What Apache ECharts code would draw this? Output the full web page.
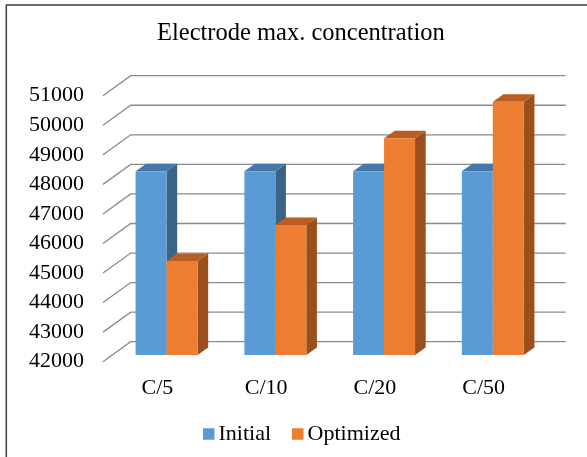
<!DOCTYPE html>
<html>
<head>
<meta charset="utf-8">
<style>
  html, body { margin: 0; padding: 0; background: #fff; }
  #chart { width: 587px; height: 457px; }
</style>
<script src="https://cdn.jsdelivr.net/npm/echarts@6/dist/echarts.min.js"></script>
</head>
<body>
<div id="chart"></div>
<script>
// Chart data
const categories = ['C/5', 'C/10', 'C/20', 'C/50'];
const initialValues = [48220, 48220, 48220, 48220];
const optimizedValues = [45180, 46400, 49330, 50570];
const yTicks = [42000, 43000, 44000, 45000, 46000, 47000, 48000, 49000, 50000, 51000];
const seriesNames = ['Initial', 'Optimized'];

// Pseudo-3D geometry (pixels): wall depth, plane of the bar fronts, bar thickness
const WALL_DEPTH = [27.7, -20];
const PLANE_SHIFT = [9.2, -6.7];
const BAR_DEPTH = [10.6, -7.5];
const BAR_FRACTION = 0.285;
const FONT = '"Liberation Serif", "Times New Roman", serif';

const Y_MIN = yTicks[0];
const Y_MAX = yTicks[yTicks.length - 1];

const palettes = [
  { front: '#5B9BD5', top: '#4677A9', side: '#3A6487' },
  { front: '#ED7D31', top: '#B95D20', side: '#9A4F1D' }
];

function gridRenderer(params, api) {
  const v = api.value(1);
  const p = api.coord([0, v]);
  const band = api.size([1, 0])[0];
  const xl = p[0] - band / 2;
  const xr = xl + band * categories.length;
  return {
    type: 'polyline',
    shape: {
      points: [
        [xl, p[1]],
        [xl + WALL_DEPTH[0], p[1] + WALL_DEPTH[1]],
        [xr + WALL_DEPTH[0], p[1] + WALL_DEPTH[1]]
      ]
    },
    style: { stroke: '#8a8a8a', lineWidth: 1.3, fill: null }
  };
}

function barRenderer(slot) {
  const pal = palettes[slot];
  return function (params, api) {
    const idx = api.value(0);
    const val = api.value(1);
    const band = api.size([1, 0])[0];
    const w = band * BAR_FRACTION;
    const base = api.coord([idx, Y_MIN]);
    const top = api.coord([idx, val]);
    const x0 = base[0] + PLANE_SHIFT[0] + (slot === 0 ? -w : 0);
    const x1 = x0 + w;
    const yb = base[1] + PLANE_SHIFT[1];
    const yt = top[1] + PLANE_SHIFT[1];
    const dx = BAR_DEPTH[0], dy = BAR_DEPTH[1];
    return {
      type: 'group',
      children: [
        { type: 'polygon', shape: { points: [[x1, yb], [x1, yt], [x1 + dx, yt + dy], [x1 + dx, yb + dy]] }, style: { fill: pal.side } },
        { type: 'polygon', shape: { points: [[x0, yt], [x1, yt], [x1 + dx, yt + dy], [x0 + dx, yt + dy]] }, style: { fill: pal.top } },
        { type: 'rect', shape: { x: x0, y: yt, width: w, height: yb - yt }, style: { fill: pal.front } }
      ]
    };
  };
}

const chart = echarts.init(document.getElementById('chart'), null, { renderer: 'canvas' });

chart.setOption({
  backgroundColor: '#ffffff',
  animation: false,
  title: {
    text: 'Electrode max. concentration',
    left: 157,
    top: 21,
    padding: 0,
    textStyle: { fontFamily: FONT, fontSize: 24.5, fontWeight: 'normal', color: '#000' }
  },
  legend: {
    data: seriesNames,
    left: 203,
    top: 423,
    padding: 0,
    icon: 'rect',
    itemWidth: 11.5,
    itemHeight: 11.5,
    itemGap: 21,
    textStyle: { fontFamily: FONT, fontSize: 22, color: '#000', padding: [0, 0, 0, -1] }
  },
  grid: {
    left: 103,
    right: 49,
    top: 95.7,
    bottom: 95.3,
    containLabel: false,
    outerBoundsMode: 'none'
  },
  xAxis: {
    type: 'category',
    data: categories,
    boundaryGap: true,
    axisLine: { show: false },
    axisTick: { show: false },
    splitLine: { show: false },
    axisLabel: { margin: 16, fontFamily: FONT, fontSize: 22, color: '#000' }
  },
  yAxis: {
    type: 'value',
    min: Y_MIN,
    max: Y_MAX,
    interval: 1000,
    axisLine: { show: false },
    axisTick: { show: false },
    splitLine: { show: false },
    axisLabel: {
      margin: 19,
      fontFamily: FONT,
      fontSize: 22,
      color: '#000',
      padding: [2, 0, 0, 0],
      formatter: v => String(v)
    }
  },
  graphic: [{
    type: 'rect',
    shape: { x: 6.3, y: 5, width: 700, height: 600 },
    style: { fill: null, stroke: '#3c3c3c', lineWidth: 1.5 },
    silent: true,
    z: 100
  }],
  series: [
    {
      name: 'gridlines',
      type: 'custom',
      silent: true,
      clip: false,
      z: 1,
      renderItem: gridRenderer,
      encode: { x: 0, y: 1 },
      data: yTicks.map(v => [0, v])
    },
    {
      name: seriesNames[0],
      type: 'custom',
      clip: false,
      z: 2,
      itemStyle: { color: palettes[0].front },
      renderItem: barRenderer(0),
      encode: { x: 0, y: 1 },
      data: initialValues.map((v, i) => [i, v])
    },
    {
      name: seriesNames[1],
      type: 'custom',
      clip: false,
      z: 3,
      itemStyle: { color: palettes[1].front },
      renderItem: barRenderer(1),
      encode: { x: 0, y: 1 },
      data: optimizedValues.map((v, i) => [i, v])
    }
  ]
});
</script>
</body>
</html>
